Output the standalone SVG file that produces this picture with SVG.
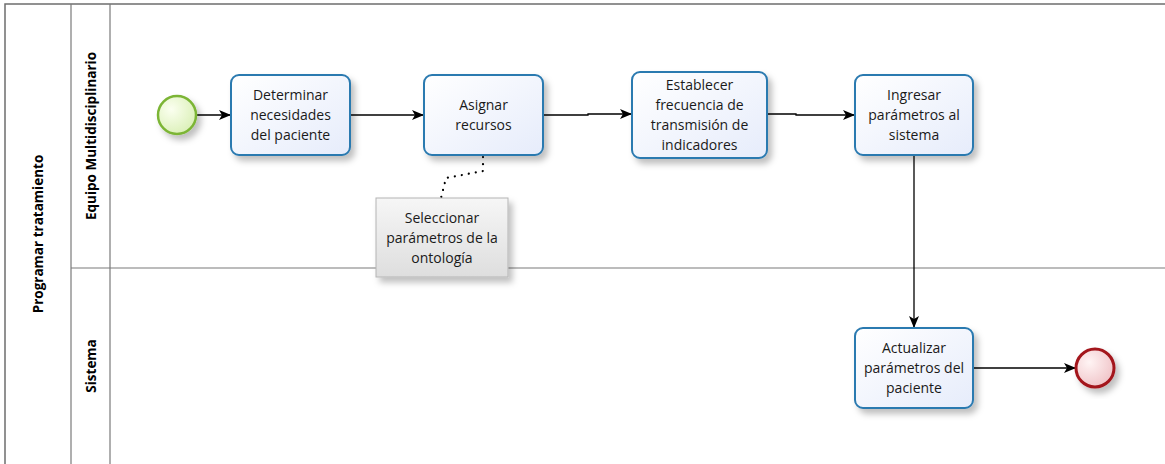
<svg xmlns="http://www.w3.org/2000/svg" width="1165" height="464" viewBox="0 0 1165 464">
  <defs>
    <linearGradient id="taskFill" x1="0" y1="0" x2="1" y2="1">
      <stop offset="0" stop-color="#ffffff"/>
      <stop offset="1" stop-color="#e6ecfb"/>
    </linearGradient>
    <radialGradient id="startFill" cx="0.35" cy="0.35" r="0.7">
      <stop offset="0" stop-color="#fbfff0"/>
      <stop offset="1" stop-color="#dbf0b8"/>
    </radialGradient>
    <radialGradient id="endFill" cx="0.35" cy="0.35" r="0.7">
      <stop offset="0" stop-color="#fff4f4"/>
      <stop offset="1" stop-color="#f0c4c8"/>
    </radialGradient>
    <linearGradient id="noteFill" x1="0" y1="0" x2="0" y2="1">
      <stop offset="0" stop-color="#f6f6f6"/>
      <stop offset="1" stop-color="#dedede"/>
    </linearGradient>
    <filter id="shadow" x="-20%" y="-20%" width="150%" height="150%">
      <feDropShadow dx="4" dy="5" stdDeviation="3" flood-color="#000" flood-opacity="0.25"/>
    </filter>
    <marker id="arrow" viewBox="0 0 12 10" refX="12" refY="5" markerWidth="12" markerHeight="10" markerUnits="userSpaceOnUse" orient="auto">
      <path d="M0,0 L12,5 L0,10 L3,5 Z" fill="#000"/>
    </marker>
    <style>
      .pool { fill: #fff; stroke: #6e6e6e; stroke-width: 1.5; }
      .lane { fill: none; stroke: #7a7a7a; stroke-width: 1.2; }
      .poolLabel { font-family: "Open Sans", "DejaVu Sans", sans-serif; font-size: 13.5px; font-weight: bold; fill: #000; text-anchor: middle; }
      .task { fill: url(#taskFill); stroke: #2c7ab0; stroke-width: 2; filter: url(#shadow); }
      .label { font-family: "Open Sans", "DejaVu Sans", sans-serif; font-size: 14px; fill: #1a1a1a; text-anchor: middle; }
      .flow { fill: none; stroke: #000; stroke-width: 1.3; marker-end: url(#arrow); }
      .assoc { fill: none; stroke: #000; stroke-width: 2.2; stroke-dasharray: 0.1 7; stroke-linecap: round; }
    </style>
  </defs>

  <!-- pool and lanes -->
  <g id="pool">
    <rect class="pool" x="5" y="4" width="1170" height="470"/>
    <line class="lane" x1="71" y1="4" x2="71" y2="464"/>
    <line class="lane" x1="110" y1="4" x2="110" y2="464"/>
    <line class="lane" x1="71" y1="268" x2="1165" y2="268"/>
    <text class="poolLabel" transform="translate(43,234) rotate(-90)">Programar tratamiento</text>
  </g>
  <g id="lane-equipo">
    <text class="poolLabel" transform="translate(96,136) rotate(-90)">Equipo Multidisciplinario</text>
  </g>
  <g id="lane-sistema">
    <text class="poolLabel" transform="translate(96,366) rotate(-90)">Sistema</text>
  </g>

  <!-- connectors -->
  <g id="connectors">
    <path class="flow" d="M196,115 L231,115"/>
    <path class="flow" d="M350,115 L424,115"/>
    <path class="flow" d="M543,115 L588,115 L588,114 L632,114"/>
    <path class="flow" d="M767,114 L796,114 L796,115 L855,115"/>
    <path class="flow" d="M914,155 L914,328"/>
    <path class="flow" d="M973,368 L1076,368"/>
    <path class="assoc" d="M483,157 L483,171 L446,178 L441,198"/>
  </g>

  <!-- start event -->
  <g id="start">
    <circle cx="177" cy="115" r="19" fill="url(#startFill)" stroke="#7cb536" stroke-width="2.5" filter="url(#shadow)"/>
  </g>

  <!-- tasks -->
  <g id="task-determinar">
    <rect class="task" x="231" y="75" width="119" height="80" rx="8"/>
    <text class="label" x="290.5" y="100">Determinar</text>
    <text class="label" x="290.5" y="120">necesidades</text>
    <text class="label" x="290.5" y="140">del paciente</text>
  </g>
  <g id="task-asignar">
    <rect class="task" x="424" y="75" width="119" height="80" rx="8"/>
    <text class="label" x="483.5" y="110">Asignar</text>
    <text class="label" x="483.5" y="130">recursos</text>
  </g>
  <g id="task-establecer">
    <rect class="task" x="632" y="72" width="135" height="86" rx="8"/>
    <text class="label" x="699.5" y="90">Establecer</text>
    <text class="label" x="699.5" y="110">frecuencia de</text>
    <text class="label" x="699.5" y="130">transmisión de</text>
    <text class="label" x="699.5" y="150">indicadores</text>
  </g>
  <g id="task-ingresar">
    <rect class="task" x="855" y="75" width="118" height="80" rx="8"/>
    <text class="label" x="914" y="100">Ingresar</text>
    <text class="label" x="914" y="120">parámetros al</text>
    <text class="label" x="914" y="140">sistema</text>
  </g>
  <g id="task-actualizar">
    <rect class="task" x="855" y="328" width="118" height="80" rx="8"/>
    <text class="label" x="914" y="353">Actualizar</text>
    <text class="label" x="914" y="373">parámetros del</text>
    <text class="label" x="914" y="393">paciente</text>
  </g>

  <!-- annotation -->
  <g id="note-ontologia">
    <rect x="376" y="198" width="132" height="79" fill="url(#noteFill)" stroke="#b4b4b4" stroke-width="1" filter="url(#shadow)"/>
    <text class="label" x="442" y="223">Seleccionar</text>
    <text class="label" x="442" y="243">parámetros de la</text>
    <text class="label" x="442" y="263">ontología</text>
  </g>

  <!-- end event -->
  <g id="end">
    <circle cx="1095" cy="368" r="19" fill="url(#endFill)" stroke="#a3151b" stroke-width="3" filter="url(#shadow)"/>
  </g>
</svg>
